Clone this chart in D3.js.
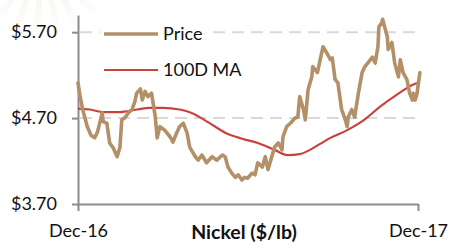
<!DOCTYPE html>
<html>
<head>
<meta charset="utf-8">
<script src="https://cdn.jsdelivr.net/npm/d3@7"></script>
<style>
  body { margin: 0; background: #fff; }
  svg { display: block; font-family: Lato, "Open Sans", sans-serif; }
</style>
</head>
<body>
<svg id="chart" width="450" height="248"></svg>
<script>
// nickel price, days since Dec-16
const priceDays = [0, 2, 5, 10, 14, 18, 21, 26, 27, 31, 34, 38, 42, 45, 47, 50, 54, 58, 61, 63,
  67, 69, 72, 75, 79, 83, 85, 88, 93, 99, 102, 106, 109, 113, 117, 120, 126, 129, 133, 138,
  144, 149, 155, 158, 161, 165, 169, 172, 176, 179, 182, 187, 190, 193, 198, 201, 204, 208, 211, 215,
  219, 220, 224, 228, 233, 236, 238, 242, 244, 247, 251, 252, 257, 260, 263, 267, 271, 273, 276, 279,
  283, 287, 289, 290, 294, 297, 301, 305, 308, 311, 316, 319, 322, 323, 326, 327, 330, 332, 333, 337,
  340, 344, 346, 349, 353, 356, 359, 360, 362, 364, 367];
const priceValues = [5.11, 4.97, 4.80, 4.60, 4.50, 4.47, 4.54, 4.76, 4.66, 4.64, 4.41, 4.35, 4.25, 4.36, 4.68, 4.70, 4.76, 4.80, 4.89, 4.99,
  5.04, 4.91, 5.01, 4.95, 4.99, 4.71, 4.47, 4.60, 4.56, 4.48, 4.42, 4.53, 4.60, 4.64, 4.53, 4.36, 4.25, 4.21, 4.27, 4.18,
  4.25, 4.21, 4.27, 4.25, 4.13, 4.06, 4.01, 4.04, 3.98, 4.01, 4.00, 4.06, 4.04, 4.18, 4.13, 4.25, 4.10, 4.25, 4.36, 4.41,
  4.33, 4.48, 4.60, 4.64, 4.70, 4.71, 4.95, 4.80, 4.68, 5.03, 5.18, 5.30, 5.23, 5.38, 5.53, 5.46, 5.38, 5.40, 5.15, 5.11,
  4.80, 4.68, 4.60, 4.71, 4.80, 4.71, 4.99, 5.23, 5.30, 5.34, 5.41, 5.34, 5.53, 5.76, 5.81, 5.85, 5.73, 5.65, 5.50, 5.58,
  5.34, 5.18, 5.38, 5.23, 5.15, 4.99, 4.91, 4.99, 4.91, 4.99, 5.23];

// 100-day moving average
const maDays = [0, 13, 27, 45, 63, 77, 91, 109, 122, 140, 158, 176, 193, 211, 225, 238, 249, 260, 271, 289,
  306, 324, 342, 360, 367];
const maValues = [4.81, 4.80, 4.77, 4.77, 4.80, 4.82, 4.82, 4.80, 4.76, 4.65, 4.53, 4.46, 4.41, 4.33, 4.27, 4.28, 4.33, 4.40, 4.47, 4.56,
  4.67, 4.83, 4.97, 5.09, 5.12];

const yTicks = [3.70, 4.70, 5.70];
const gridTicks = [4.70, 5.70];
const xTickDays = [0, 365];
const xTickLabels = ["Dec-16", "Dec-17"];
const seriesNames = ["Price", "100D MA"];

const priceColor = "#b39068";
const maColor = "#c9433d";
const axisColor = "#8c8c8c";

const svg = d3.select("#chart");
const plotLeft = 78, plotRight = 418, plotTop = 15, plotBottom = 204;

// faint sunburst watermark, top left
const burst = svg.append("g").attr("transform", "translate(42,-42)");
const grad = svg.append("defs").append("radialGradient").attr("id", "burst")
  .attr("cx", 0).attr("cy", 0).attr("r", 80).attr("gradientUnits", "userSpaceOnUse");
grad.append("stop").attr("offset", "0.4").attr("stop-color", "#f4ece2");
grad.append("stop").attr("offset", "1").attr("stop-color", "#ffffff");
d3.range(30, 160, 16).forEach(a => {
  const arc = d3.arc().innerRadius(0).outerRadius(80)
    .startAngle((a - 3.5) * Math.PI / 180 + Math.PI / 2)
    .endAngle((a + 3.5) * Math.PI / 180 + Math.PI / 2);
  burst.append("path").attr("d", arc()).attr("fill", "url(#burst)").attr("opacity", 0.6);
});

const x = d3.scaleLinear().domain([0, 365]).range([plotLeft, plotRight]);
const y = d3.scaleLinear().domain([3.70, 5.90]).range([plotBottom, plotTop]);

// gridlines
svg.append("g")
  .selectAll("line")
  .data(gridTicks)
  .join("line")
  .attr("x1", plotLeft + 2).attr("x2", plotRight + 1)
  .attr("y1", d => y(d)).attr("y2", d => y(d))
  .attr("stroke", "#d9d9d9")
  .attr("stroke-width", 2)
  .attr("stroke-dasharray", "12,7");

// axes
const yAxis = svg.append("g")
  .attr("transform", "translate(" + plotLeft + ",0)")
  .call(d3.axisLeft(y).tickValues(yTicks).tickSize(6).tickSizeOuter(0).tickPadding(15)
    .tickFormat(d => "$" + d.toFixed(2)));

const xAxis = svg.append("g")
  .attr("transform", "translate(0," + plotBottom + ")")
  .call(d3.axisBottom(x).tickValues(xTickDays).tickSize(7).tickSizeOuter(0).tickPadding(13)
    .tickFormat((d, i) => xTickLabels[i]));

[yAxis, xAxis].forEach(g => {
  g.select(".domain").attr("stroke", axisColor).attr("stroke-width", 2);
  g.selectAll(".tick line").attr("stroke", axisColor).attr("stroke-width", 2);
  g.selectAll(".tick text").attr("font-size", 18).attr("fill", "#111")
    .attr("font-family", "Lato, 'Open Sans', sans-serif");
});

// lines
const priceLine = d3.line()
  .x((d, i) => x(priceDays[i]))
  .y(d => y(d));

const maLine = d3.line()
  .x((d, i) => x(maDays[i]))
  .y(d => y(d))
  .curve(d3.curveMonotoneX);

svg.append("path")
  .attr("d", maLine(maValues))
  .attr("fill", "none")
  .attr("stroke", maColor)
  .attr("stroke-width", 2.2);

svg.append("path")
  .attr("d", priceLine(priceValues))
  .attr("fill", "none")
  .attr("stroke", priceColor)
  .attr("stroke-width", 3.6)
  .attr("stroke-linejoin", "round")
  .attr("stroke-linecap", "round");

// legend
const legend = svg.append("g");
legend.append("rect")
  .attr("x", 100).attr("y", 20).attr("width", 108).attr("height", 62)
  .attr("fill", "#fff");
const items = legend.selectAll(".item")
  .data(seriesNames)
  .join("g")
  .attr("transform", (d, i) => "translate(104," + (34 + i * 36) + ")");
items.append("line")
  .attr("x1", 0).attr("x2", 54)
  .attr("stroke", (d, i) => i === 0 ? priceColor : maColor)
  .attr("stroke-width", (d, i) => i === 0 ? 3.6 : 2.2);
items.append("text")
  .attr("x", 59)
  .attr("dy", "0.36em")
  .attr("font-size", 18)
  .attr("fill", "#111")
  .text(d => d);

// title
svg.append("text")
  .attr("x", 244)
  .attr("y", 239)
  .attr("text-anchor", "middle")
  .attr("font-size", 19.5)
  .attr("font-weight", "bold")
  .attr("fill", "#111")
  .text("Nickel ($/lb)");
</script>
</body>
</html>
